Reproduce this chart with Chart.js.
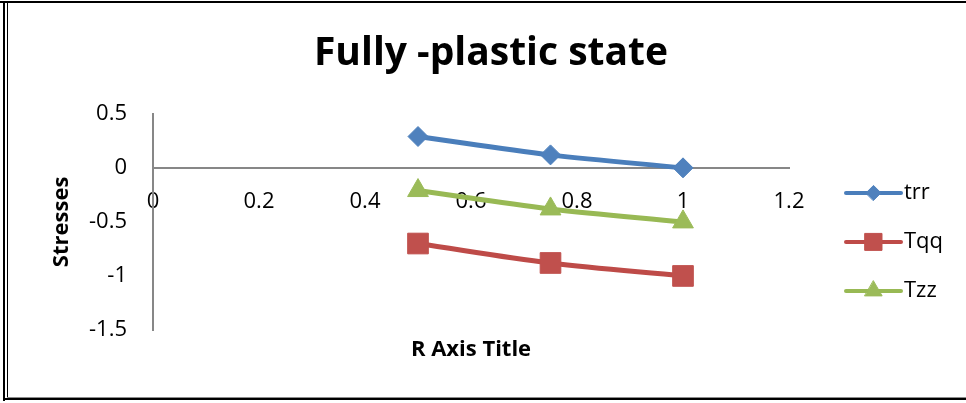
<!DOCTYPE html>
<html>
<head>
<meta charset="utf-8">
<script src="https://cdn.jsdelivr.net/npm/chart.js@4.4.0/dist/chart.umd.min.js"></script>
<style>
html,body{margin:0;padding:0;background:#fff;}
#wrap{position:relative;width:966px;height:403px;overflow:hidden;background:#fff;}
#c{position:absolute;left:0;top:0;}
.b{position:absolute;background:#000;}
</style>
</head>
<body>
<div id="wrap">
<canvas id="c" width="966" height="403"></canvas>
<div class="b" style="left:0;top:1px;width:966px;height:2px"></div>
<div class="b" style="left:3px;top:1px;width:2px;height:400px"></div>
<div class="b" style="left:7px;top:1px;width:1px;height:397px"></div>
<div class="b" style="left:3px;top:398px;width:963px;height:2px"></div>
<div class="b" style="left:7px;top:397px;width:959px;height:1px;background:#8c8c8c"></div>
</div>
<script>
// ---- data ----
const chartTitle = 'Fully -plastic state';
const xAxisTitle = 'R Axis Title';
const yAxisTitle = 'Stresses';
const seriesNames = ['trr', 'Tqq', 'Tzz'];
const rValues = [0.5, 0.75, 1];
const trrValues = [0.29, 0.12, 0.00];
const tqqValues = [-0.70, -0.88, -1.00];
const tzzValues = [-0.21, -0.38, -0.50];
const xTickValues = [0, 0.2, 0.4, 0.6, 0.8, 1, 1.2];
const xTickLabels = ['0', '0.2', '0.4', '0.6', '0.8', '1', '1.2'];
const yTickValues = [-1.5, -1, -0.5, 0, 0.5];
const yTickLabels = ['-1.5', '-1', '-0.5', '0', '0.5'];

// ---- styles ----
const lineColors = ['#4A7EBB', '#BE4B48', '#98B954'];
const markerColors = ['#4F81BD', '#C0504D', '#9BBB59'];
const markerStyles = ['rectRot', 'rect', 'triangle'];
const markerRadius = [10, 14.6, 12];
const legendRadius = [7.5, 12, 10];
const FONT = '"Open Sans", "Liberation Sans", sans-serif';

Chart.defaults.color = '#000';
Chart.defaults.font.family = FONT;

const seriesValues = [trrValues, tqqValues, tzzValues];
const datasets = seriesNames.map((name, i) => ({
  label: name,
  data: rValues.map((r, j) => ({x: r, y: seriesValues[i][j]})),
  showLine: true,
  borderColor: lineColors[i],
  backgroundColor: markerColors[i],
  borderWidth: 5,
  tension: 0.35,
  pointStyle: markerStyles[i],
  pointRadius: markerRadius[i],
  pointBackgroundColor: markerColors[i],
  pointBorderColor: markerColors[i],
  pointBorderWidth: 1,
  clip: false
}));

const legendPlugin = {
  id: 'excelLegend',
  afterDraw(chart) {
    const {ctx, chartArea} = chart;
    const x0 = chartArea.right + 57, len = 55;
    const yc = (chartArea.top + chartArea.bottom) / 2 + 20;
    chart.data.datasets.forEach((ds, i) => {
      const y = yc + (i - 1) * 49;
      ctx.save();
      ctx.strokeStyle = ds.borderColor;
      ctx.lineWidth = 4;
      ctx.lineCap = 'round';
      ctx.beginPath();
      ctx.moveTo(x0, y);
      ctx.lineTo(x0 + len, y);
      ctx.stroke();
      ctx.fillStyle = ds.pointBackgroundColor;
      ctx.strokeStyle = ds.pointBorderColor;
      ctx.lineWidth = 1;
      Chart.helpers.drawPoint(ctx, {pointStyle: ds.pointStyle, radius: legendRadius[i], rotation: 0, borderWidth: 1}, x0 + len / 2, y);
      ctx.fillStyle = '#000';
      ctx.font = '22px ' + FONT;
      ctx.textBaseline = 'middle';
      ctx.textAlign = 'left';
      ctx.fillText(ds.label, x0 + len + 3, y);
      ctx.restore();
    });
  }
};

new Chart(document.getElementById('c'), {
  type: 'scatter',
  data: {datasets},
  plugins: [legendPlugin],
  options: {
    responsive: false,
    animation: false,
    devicePixelRatio: 1,
    layout: {padding: {left: 16, right: 0, top: 0, bottom: 0}},
    plugins: {
      legend: {display: false},
      tooltip: {enabled: false},
      title: {
        display: true,
        text: chartTitle,
        font: {size: 39, weight: 'bold', family: FONT, lineHeight: 1.2},
        padding: {top: 30, bottom: 37},
        color: '#000'
      }
    },
    scales: {
      x: {
        type: 'linear',
        position: {y: 0},
        min: 0, max: 1.2,
        afterBuildTicks: s => { s.ticks = xTickValues.map(v => ({value: v})); },
        ticks: {
          callback: (v, i) => xTickLabels[i],
          font: {size: 22, family: FONT},
          padding: 21,
          maxRotation: 0,
          autoSkip: false,
          color: '#000'
        },
        grid: {display: false, drawTicks: false},
        border: {display: true, color: '#878787', width: 2}
      },
      x2: {
        type: 'linear',
        position: 'bottom',
        display: true,
        ticks: {display: false},
        grid: {display: false, drawTicks: false},
        border: {display: false},
        title: {
          display: true,
          text: xAxisTitle,
          font: {size: 22, weight: 'bold', family: FONT, lineHeight: 1.2},
          padding: {top: 0, bottom: 40},
          color: '#000'
        },
        afterFit: s => { s.height = 73; }
      },
      y: {
        type: 'linear',
        position: 'left',
        min: -1.5, max: 0.5,
        afterBuildTicks: s => { s.ticks = yTickValues.map(v => ({value: v})); },
        ticks: {
          callback: (v, i) => yTickLabels[i],
          font: {size: 22, family: FONT},
          padding: 26,
          color: '#000'
        },
        grid: {display: false, drawTicks: false},
        border: {display: true, color: '#878787', width: 2},
        title: {
          display: true,
          text: yAxisTitle,
          font: {size: 22, weight: 'bold', family: FONT, lineHeight: 1.2},
          padding: {top: 33, bottom: 0},
          color: '#000'
        },
        afterFit: s => { s.width = 137; }
      },
      yR: {
        type: 'linear',
        position: 'right',
        display: true,
        ticks: {display: false},
        grid: {display: false, drawTicks: false},
        border: {display: false},
        afterFit: s => { s.width = 177; }
      }
    }
  }
});
</script>
</body>
</html>
